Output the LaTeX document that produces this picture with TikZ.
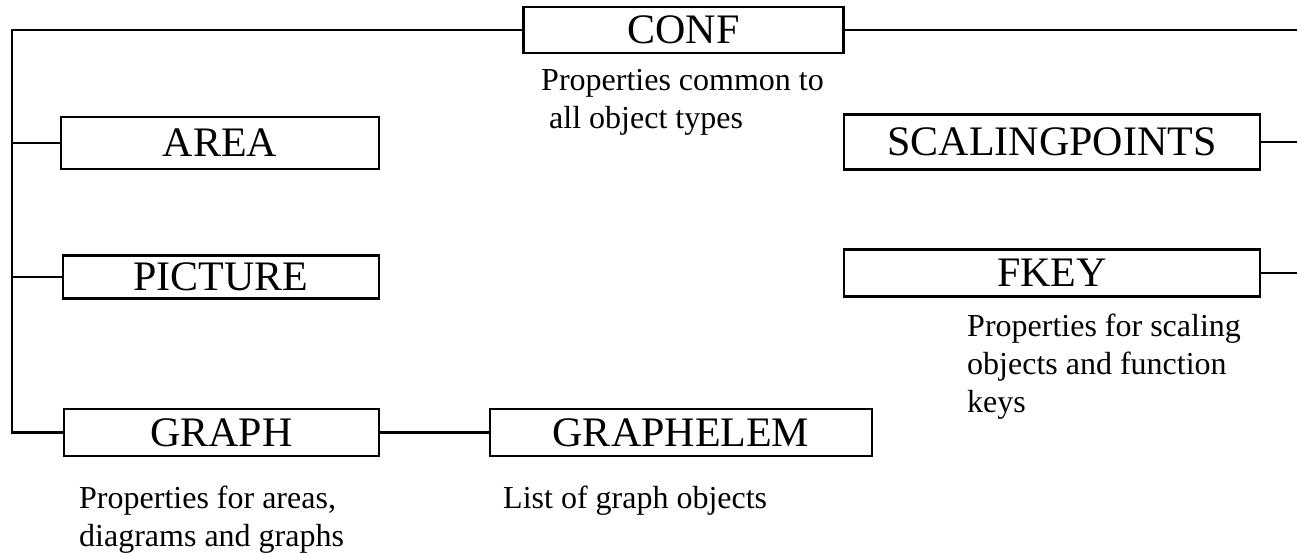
\documentclass[tikz,border=0pt]{standalone}
\usepackage{fontspec}
\setmainfont{Liberation Serif}
\begin{document}
\begin{tikzpicture}[x=1pt,y=-1pt,
  box/.style={draw,line width=2.5pt,inner sep=0pt,font=\fontsize{42}{50}\selectfont},
  desc/.style={anchor=base west,inner sep=0pt,font=\fontsize{32}{38.4}\selectfont},
  link/.style={line width=2.5pt}]
\useasboundingbox (0,0) rectangle (1297,553);
% boxes
\node[box,minimum width=320pt,minimum height=46pt] (conf) at (683.5,30) {CONF};
\node[box,minimum width=318pt,minimum height=52pt] (area) at (220,143) {AREA};
\node[box,minimum width=316pt,minimum height=43pt] (picture) at (221,277) {PICTURE};
\node[box,minimum width=315pt,minimum height=47pt] (graph) at (221.5,432.5) {GRAPH};
\node[box,minimum width=382pt,minimum height=47pt] (graphelem) at (681,432.5) {GRAPHELEM};
\node[box,minimum width=416pt,minimum height=55pt] (scal) at (1052,142) {SCALINGPOINTS};
\node[box,minimum width=416pt,minimum height=47pt] (fkey) at (1052,273) {FKEY};
% descriptions
\node[desc] (c1) at (541,91) {Properties common to};
\node[desc] (c2) at (549,129) {all object types};
\node[desc] (f1) at (967,336) {Properties for scaling};
\node[desc] (f2) at (967,374) {objects and function};
\node[desc] (f3) at (967,412) {keys};
\node[desc] (g1) at (79,508) {Properties for areas,};
\node[desc] (g2) at (79,546) {diagrams and graphs};
\node[desc] (e1) at (503,508) {List of graph objects};
% connectors
\coordinate (spine) at (12,0);
\coordinate (redge) at (1297,0);
\draw[link] (conf.west) -- (conf.west -| spine) -- (graph.west -| spine) -- (graph.west);
\draw[link] (conf.east) -- (conf.east -| redge);
\draw[link] (area.west) -- (area.west -| spine);
\draw[link] (picture.west) -- (picture.west -| spine);
\draw[link] (graph.east) -- (graphelem.west);
\draw[link] (scal.east) -- (scal.east -| redge);
\draw[link] (fkey.east) -- (fkey.east -| redge);
\end{tikzpicture}
\end{document}
